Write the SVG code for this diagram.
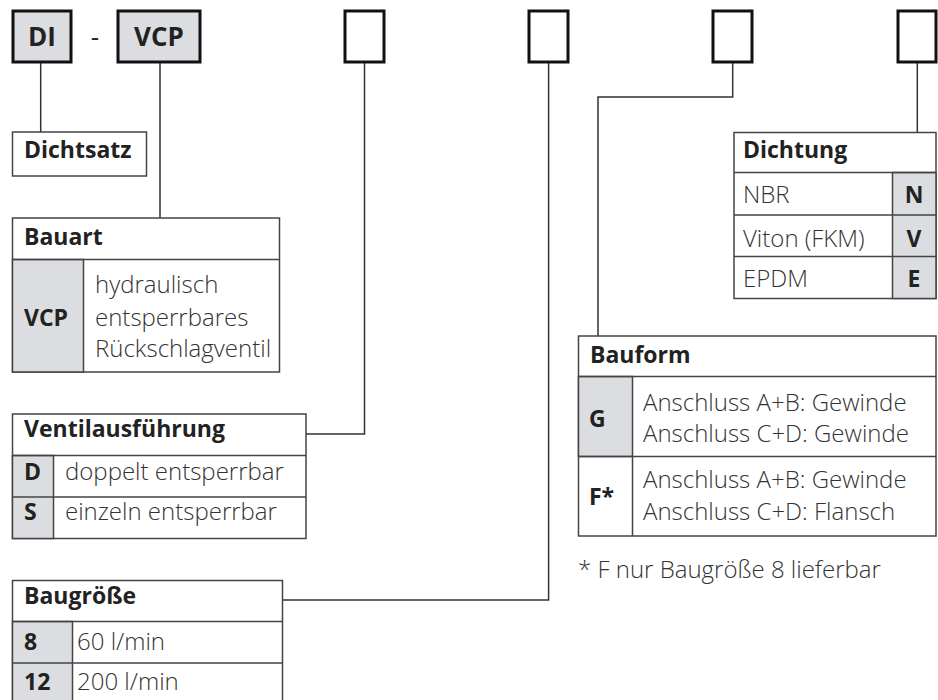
<svg xmlns="http://www.w3.org/2000/svg" width="938" height="700" viewBox="0 0 938 700">
<style>
.tb{stroke:#111;stroke-width:3;fill:#fff}
.tbg{stroke:#111;stroke-width:3;fill:#dcdde0}
.tab{stroke:#444;stroke-width:1.5;fill:#fff}
.g{fill:#dcdde0;stroke:#444;stroke-width:1.5}
.ln{stroke:#444;stroke-width:1.5;fill:none}
.conn{stroke:#333;stroke-width:1.5;fill:none}
text{font-family:"Open Sans","Noto Sans","Liberation Sans",sans-serif;font-size:23px}
.h{font-weight:700;fill:#222}
.k{font-weight:700;fill:#222}
.d{font-weight:300;fill:#333;font-size:24px}
.top{font-weight:700;fill:#222;font-size:26px}
</style>
<rect width="938" height="700" fill="#fff"/>
<g id="connectors">
<path class="conn" d="M40.7 62V132"/>
<path class="conn" d="M160 62V218"/>
<path class="conn" d="M364.5 62V434H306"/>
<path class="conn" d="M548.6 62V600H283"/>
<path class="conn" d="M732.7 62V97H598V336"/>
<path class="conn" d="M917.3 62V132"/>
</g>
<g id="code-DI"><rect class="tbg" x="13" y="11" width="58" height="51"/><text class="top" x="42" y="46" text-anchor="middle">DI</text></g>
<g id="dash"><text class="top" x="95" y="46" text-anchor="middle" style="font-weight:400">-</text></g>
<g id="code-VCP"><rect class="tbg" x="118" y="11" width="82" height="51"/><text class="top" x="159" y="46" text-anchor="middle">VCP</text></g>
<g id="code-3"><rect class="tb" x="345" y="11" width="39" height="51"/></g>
<g id="code-4"><rect class="tb" x="529" y="11" width="39" height="51"/></g>
<g id="code-5"><rect class="tb" x="713" y="11" width="39" height="51"/></g>
<g id="code-6"><rect class="tb" x="898" y="11" width="38" height="51"/></g>
<g id="dichtsatz"><rect class="tab" x="12.5" y="132" width="134" height="44"/><text class="h" x="24" y="158">Dichtsatz</text></g>
<g id="bauart">
<rect class="tab" x="12.5" y="218" width="267" height="154"/>
<rect class="g" x="12.5" y="259.5" width="71" height="112.5"/>
<path class="ln" d="M12.5 259.5H279.5"/>
<text class="h" x="24" y="245">Bauart</text>
<text class="k" x="24" y="326">VCP</text>
<text class="d" x="95" y="293">hydraulisch</text>
<text class="d" x="95" y="326">entsperrbares</text>
<text class="d" x="95" y="357">Rückschlagventil</text>
</g>
<g id="ventilausfuehrung">
<rect class="tab" x="12.5" y="414" width="293.5" height="124.5"/>
<rect class="g" x="12.5" y="455.5" width="41" height="83"/>
<path class="ln" d="M12.5 455.5H306M12.5 497H306"/>
<text class="h" x="24" y="437">Ventilausführung</text>
<text class="k" x="24" y="480">D</text>
<text class="d" x="65" y="480">doppelt entsperrbar</text>
<text class="k" x="24" y="520">S</text>
<text class="d" x="65" y="520">einzeln entsperrbar</text>
</g>
<g id="baugroesse">
<rect class="tab" x="12.5" y="580.5" width="270" height="125"/>
<rect class="g" x="12.5" y="621.5" width="60" height="84"/>
<path class="ln" d="M12.5 621.5H282.5M12.5 663H282.5"/>
<text class="h" x="24" y="604">Baugröße</text>
<text class="k" x="24" y="650">8</text>
<text class="d" x="77" y="650">60 l/min</text>
<text class="k" x="24" y="690">12</text>
<text class="d" x="77" y="690">200 l/min</text>
</g>
<g id="dichtung">
<rect class="tab" x="734" y="132.5" width="202" height="166"/>
<rect class="g" x="892.5" y="172.5" width="43.5" height="126"/>
<path class="ln" d="M734 172.5H936M734 215H936M734 256.5H936"/>
<text class="h" x="743" y="158">Dichtung</text>
<text class="d" x="743" y="203">NBR</text>
<text class="d" x="743" y="246.5">Viton (FKM)</text>
<text class="d" x="743" y="286.5">EPDM</text>
<text class="k" x="914" y="203" text-anchor="middle">N</text>
<text class="k" x="914" y="246.5" text-anchor="middle">V</text>
<text class="k" x="914" y="286.5" text-anchor="middle">E</text>
</g>
<g id="bauform">
<rect class="tab" x="578.5" y="336" width="357.5" height="200"/>
<rect class="g" x="578.5" y="376.5" width="54" height="80"/>
<path class="ln" d="M578.5 376.5H936M578.5 456.5H936M632.5 456.5V536"/>
<text class="h" x="590" y="362.5">Bauform</text>
<text class="k" x="589" y="426.5">G</text>
<text class="d" x="643" y="410.5">Anschluss A+B: Gewinde</text>
<text class="d" x="643" y="441.5">Anschluss C+D: Gewinde</text>
<text class="k" x="589" y="505">F*</text>
<text class="d" x="643" y="488">Anschluss A+B: Gewinde</text>
<text class="d" x="643" y="520">Anschluss C+D: Flansch</text>
</g>
<g id="footnote"><text class="d" x="578" y="578">* F nur Baugröße 8 lieferbar</text></g>
</svg>
